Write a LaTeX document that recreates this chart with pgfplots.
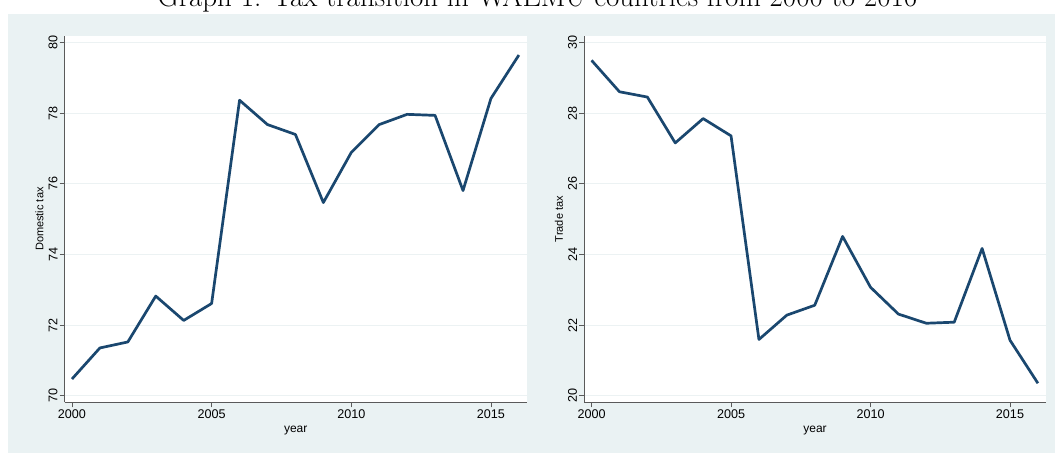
\documentclass[border=0pt]{standalone}
\usepackage{pgfplots}
\pgfplotsset{compat=1.18}
\usepackage{graphicx}
\usepackage{fontspec}
\newfontfamily\arialf{Liberation Sans}
\definecolor{bgc}{RGB}{234,242,243}
\definecolor{gridc}{RGB}{236,242,243}
\definecolor{navy}{RGB}{26,71,111}
\definecolor{axc}{RGB}{90,90,90}
\pgfplotsset{stata/.style={
  scale only axis, height=366.3pt,
  xmin=1999.74, xmax=2016.28,
  axis lines*=left,
  axis line style={axc, line width=0.9pt},
  xtick={2000,2005,2010,2015},
  tick align=outside, major tick length=5pt,
  tick style={axc, line width=0.8pt},
  ymajorgrids, grid style={gridc, line width=1pt},
  axis background/.style={fill=white},
  /pgf/number format/assume math mode=true,
  /pgf/number format/1000 sep={},
  ticklabel style={font=\arialf\fontsize{12.6}{14}\selectfont, text=black},
  xticklabel style={anchor=north, inner sep=2pt},
  yticklabel={\rotatebox{90}{\pgfmathprintnumber{\tick}}},
  yticklabel style={anchor=east, inner sep=2pt},
  label style={text=black},
  xlabel style={font=\arialf\fontsize{12}{14}\selectfont, at={(axis description cs:0.5,-0.0838)}, anchor=base},
  ylabel style={font=\arialf\fontsize{11}{13}\selectfont, at={(axis description cs:-0.0463,0.5)}, anchor=base},
}}
\begin{document}
\begin{tikzpicture}
\clip (0pt,0pt) rectangle (1055pt,453pt);
\useasboundingbox (0pt,0pt) rectangle (1055pt,453pt);
\fill[bgc] (8pt,0pt) rectangle (1055pt,439pt);
\node[anchor=base, inner sep=0pt, font=\fontsize{29}{34}\selectfont] at (537.5pt,446pt) {Graph 1: Tax transition in WAEMU countries from 2000 to 2016};
\begin{axis}[stata, at={(64.7pt,50.7pt)}, anchor=south west, width=462pt,
  ymin=69.81, ymax=80.19, ytick={70,72,74,76,78,80},
  xlabel={year}, ylabel={Domestic tax}]
\addplot[navy, line width=2.7pt, line join=round, mark=none] coordinates {
(2000,70.47) (2001,71.35) (2002,71.52) (2003,72.82) (2004,72.13) (2005,72.61)
(2006,78.37) (2007,77.68) (2008,77.40) (2009,75.47) (2010,76.89) (2011,77.68)
(2012,77.97) (2013,77.94) (2014,75.81) (2015,78.42) (2016,79.65)};
\end{axis}
\begin{axis}[stata, at={(584.3pt,50.7pt)}, anchor=south west, width=461.4pt,
  ymin=19.81, ymax=30.19, ytick={20,22,24,26,28,30},
  xlabel={year}, ylabel={Trade tax}]
\addplot[navy, line width=2.7pt, line join=round, mark=none] coordinates {
(2000,29.50) (2001,28.61) (2002,28.46) (2003,27.16) (2004,27.85) (2005,27.36)
(2006,21.59) (2007,22.28) (2008,22.56) (2009,24.51) (2010,23.07) (2011,22.31)
(2012,22.05) (2013,22.08) (2014,24.17) (2015,21.57) (2016,20.35)};
\end{axis}
\end{tikzpicture}
\end{document}
